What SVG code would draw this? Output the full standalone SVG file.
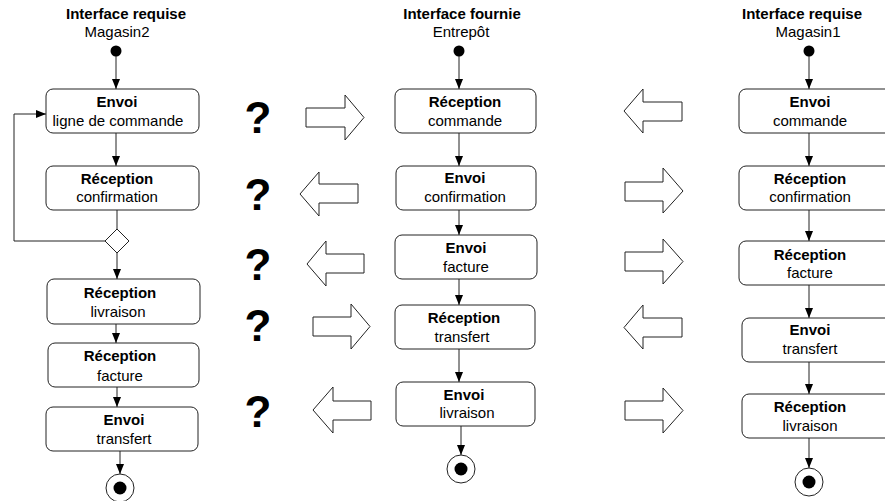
<svg xmlns="http://www.w3.org/2000/svg" width="885" height="501" viewBox="0 0 885 501">
<defs>
<marker id="ah" markerWidth="10" markerHeight="8" refX="10" refY="4" orient="auto" markerUnits="userSpaceOnUse">
<path d="M0,0 L10,4 L0,8 Z" fill="#000"/>
</marker>
<style>
.box{fill:#fff;stroke:#222;stroke-width:1}
.ln{fill:none;stroke:#222;stroke-width:1;marker-end:url(#ah)}
.ba{fill:#fff;stroke:#222;stroke-width:1}
.t{font-family:"Liberation Sans",Arial,sans-serif;font-size:15px;text-anchor:middle;fill:#000}
.b{font-weight:bold}
.q{font-family:"Liberation Sans",Arial,sans-serif;font-size:44px;font-weight:bold;text-anchor:middle;fill:#000}
</style>
</defs>
<rect width="885" height="501" fill="#fff"/>

<g id="titles">
<text class="t b" x="126" y="19">Interface requise</text>
<text class="t" x="117" y="37">Magasin2</text>
<text class="t b" x="462" y="19">Interface fournie</text>
<text class="t" x="461" y="37">Entrepôt</text>
<text class="t b" x="802" y="19">Interface requise</text>
<text class="t" x="808" y="37">Magasin1</text>
</g>

<g id="questions">
<text class="q" x="258" y="133">?</text>
<text class="q" x="258" y="210">?</text>
<text class="q" x="258" y="280">?</text>
<text class="q" x="258" y="341">?</text>
<text class="q" x="258" y="427">?</text>
</g>

<g id="connectors">
<line class="ln" x1="116" y1="56" x2="116" y2="89"/>
<line class="ln" x1="116" y1="133" x2="116" y2="166"/>
<line x1="117" y1="210" x2="117" y2="229" stroke="#222"/>
<polyline class="ln" points="105,241 14,241 14,114 46,114"/>
<line class="ln" x1="117" y1="253" x2="117" y2="279"/>
<line class="ln" x1="116" y1="324" x2="116" y2="343"/>
<line class="ln" x1="117" y1="387" x2="117" y2="407"/>
<line class="ln" x1="120" y1="451" x2="120" y2="474"/>

<line class="ln" x1="459" y1="56" x2="459" y2="89"/>
<line class="ln" x1="459" y1="133" x2="459" y2="166"/>
<line class="ln" x1="459" y1="210" x2="459" y2="235"/>
<line class="ln" x1="459" y1="279" x2="459" y2="305"/>
<line class="ln" x1="459" y1="349" x2="459" y2="382"/>
<line class="ln" x1="461" y1="426" x2="461" y2="455"/>

<line class="ln" x1="809" y1="56" x2="809" y2="89"/>
<line class="ln" x1="809" y1="133" x2="809" y2="166"/>
<line class="ln" x1="809" y1="210" x2="809" y2="241"/>
<line class="ln" x1="809" y1="285" x2="809" y2="318"/>
<line class="ln" x1="809" y1="362" x2="809" y2="394"/>
<line class="ln" x1="809" y1="438" x2="809" y2="468"/>
</g>

<g id="blockarrows">
<polygon class="ba" points="306,108 345,108 345,95 364,117.5 345,140 345,127 306,127"/>
<polygon class="ba" points="358,184 319,184 319,172 300,194 319,216 319,203 358,203"/>
<polygon class="ba" points="364,254 326,254 326,241 307,264 326,286 326,273 364,273"/>
<polygon class="ba" points="313,317 351,317 351,304 370,326.5 351,349 351,336 313,336"/>
<polygon class="ba" points="371,401 333,401 333,387 313,410 333,433 333,420 371,420"/>

<polygon class="ba" points="682,102 643,102 643,89 624,111 643,133 643,121 682,121"/>
<polygon class="ba" points="625,182 663,182 663,168 683,191 663,213 663,201 625,201"/>
<polygon class="ba" points="625,252 663,252 663,239 683,261.5 663,284 663,271 625,271"/>
<polygon class="ba" points="682,318 643,318 643,305 624,327.5 643,349 643,337 682,337"/>
<polygon class="ba" points="625,401 663,401 663,388 683,410.5 663,433 663,420 625,420"/>
</g>

<g id="start-left"><circle cx="116" cy="51" r="5.5" fill="#000"/></g>
<g id="start-mid"><circle cx="459" cy="51" r="5.5" fill="#000"/></g>
<g id="start-right"><circle cx="809" cy="51" r="5.5" fill="#000"/></g>

<g id="l1"><rect class="box" x="46" y="89" width="153" height="44" rx="7"/>
<text class="t b" x="117" y="107">Envoi</text><text class="t" x="118" y="126">ligne de commande</text></g>
<g id="l2"><rect class="box" x="46" y="166" width="153" height="44" rx="7"/>
<text class="t b" x="117" y="184">Réception</text><text class="t" x="117" y="202">confirmation</text></g>
<g id="decision"><polygon points="117,229 129,241 117,253 105,241" fill="#fff" stroke="#222"/></g>
<g id="l3"><rect class="box" x="47" y="279" width="153" height="45" rx="7"/>
<text class="t b" x="120" y="298">Réception</text><text class="t" x="118" y="317">livraison</text></g>
<g id="l4"><rect class="box" x="48" y="343" width="151" height="44" rx="7"/>
<text class="t b" x="120" y="361">Réception</text><text class="t" x="120" y="381">facture</text></g>
<g id="l5"><rect class="box" x="46" y="407" width="152" height="44" rx="7"/>
<text class="t b" x="124" y="425">Envoi</text><text class="t" x="124" y="444">transfert</text></g>
<g id="end-left"><circle cx="120" cy="488" r="14" fill="#fff" stroke="#222"/><circle cx="120" cy="488" r="6.5" fill="#000"/></g>

<g id="m1"><rect class="box" x="395" y="89" width="141" height="44" rx="7"/>
<text class="t b" x="465" y="107">Réception</text><text class="t" x="465" y="126">commande</text></g>
<g id="m2"><rect class="box" x="396" y="166" width="140" height="44" rx="7"/>
<text class="t b" x="465" y="183">Envoi</text><text class="t" x="465" y="202">confirmation</text></g>
<g id="m3"><rect class="box" x="395" y="235" width="142" height="44" rx="7"/>
<text class="t b" x="466" y="253">Envoi</text><text class="t" x="466" y="272">facture</text></g>
<g id="m4"><rect class="box" x="395" y="305" width="140" height="44" rx="7"/>
<text class="t b" x="464" y="323">Réception</text><text class="t" x="462" y="342">transfert</text></g>
<g id="m5"><rect class="box" x="396" y="382" width="139" height="44" rx="7"/>
<text class="t b" x="464" y="400">Envoi</text><text class="t" x="467" y="418">livraison</text></g>
<g id="end-mid"><circle cx="461" cy="469" r="14" fill="#fff" stroke="#222"/><circle cx="461" cy="469" r="6.5" fill="#000"/></g>

<g id="r1"><rect class="box" x="739" y="89" width="160" height="44" rx="7"/>
<text class="t b" x="810" y="107">Envoi</text><text class="t" x="810" y="126">commande</text></g>
<g id="r2"><rect class="box" x="739" y="166" width="160" height="44" rx="7"/>
<text class="t b" x="810" y="184">Réception</text><text class="t" x="810" y="202">confirmation</text></g>
<g id="r3"><rect class="box" x="739" y="241" width="160" height="44" rx="7"/>
<text class="t b" x="810" y="260">Réception</text><text class="t" x="810" y="278">facture</text></g>
<g id="r4"><rect class="box" x="742" y="318" width="160" height="44" rx="7"/>
<text class="t b" x="810" y="335">Envoi</text><text class="t" x="810" y="354">transfert</text></g>
<g id="r5"><rect class="box" x="742" y="394" width="160" height="44" rx="7"/>
<text class="t b" x="810" y="412">Réception</text><text class="t" x="810" y="431">livraison</text></g>
<g id="end-right"><circle cx="809" cy="482" r="14" fill="#fff" stroke="#222"/><circle cx="809" cy="482" r="6.5" fill="#000"/></g>
</svg>
